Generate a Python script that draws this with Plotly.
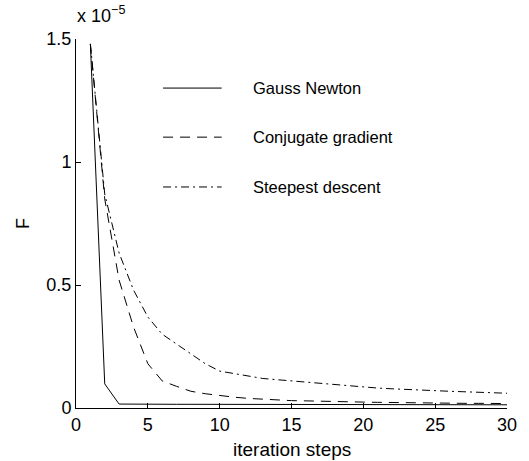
import plotly.graph_objects as go

# iteration steps
steps = list(range(1, 31))

# F values in units of 1e-5
gauss_newton = [1.48, 0.098, 0.016, 0.015, 0.015, 0.015, 0.015, 0.015, 0.015, 0.015,
                0.015, 0.015, 0.015, 0.014, 0.014, 0.014, 0.014, 0.014, 0.014, 0.014,
                0.014, 0.014, 0.014, 0.014, 0.014, 0.013, 0.013, 0.013, 0.013, 0.013]
conjugate_gradient = [1.48, 0.85, 0.52, 0.33, 0.18, 0.11, 0.088, 0.068, 0.058, 0.05,
                      0.044, 0.039, 0.035, 0.033, 0.030, 0.029, 0.027, 0.026, 0.025, 0.024,
                      0.023, 0.022, 0.022, 0.021, 0.020, 0.020, 0.019, 0.019, 0.018, 0.018]
steepest_descent = [1.48, 0.87, 0.63, 0.48, 0.37, 0.30, 0.26, 0.22, 0.18, 0.15,
                    0.14, 0.13, 0.12, 0.115, 0.11, 0.104, 0.098, 0.093, 0.089, 0.085,
                    0.081, 0.078, 0.075, 0.072, 0.070, 0.068, 0.066, 0.064, 0.062, 0.060]

series_names = ["Gauss Newton", "Conjugate gradient", "Steepest descent"]
series_values = [gauss_newton, conjugate_gradient, steepest_descent]
series_dash = ["solid", "10px,7px", "8px,4px,2px,4px"]

x_ticks = [0, 5, 10, 15, 20, 25, 30]
y_ticks = [0, 0.5, 1, 1.5]
y_tick_labels = ["0", "0.5", "1", "1.5"]

FONT = "Liberation Sans, Arial, Helvetica, sans-serif"

fig = go.Figure()
for name, vals, dash in zip(series_names, series_values, series_dash):
    fig.add_trace(go.Scatter(x=steps, y=vals, mode="lines", name=name,
                             line=dict(color="black", width=1, dash=dash),
                             showlegend=False))

# manual legend (long line samples as in the reference)
leg_y = [0.867, 0.734, 0.599]
for name, dash, ly in zip(series_names, series_dash, leg_y):
    fig.add_shape(type="line", xref="paper", yref="paper", x0=0.202, x1=0.338,
                  y0=ly, y1=ly, line=dict(color="black", width=1, dash=dash))
    fig.add_annotation(xref="paper", yref="paper", x=0.407, y=ly, text=name,
                       showarrow=False, xanchor="left", yanchor="middle",
                       font=dict(size=16.5, color="black", family=FONT))

fig.add_annotation(xref="paper", yref="paper", x=-0.002, y=1.03,
                   text="x 10<sup>−5</sup>", showarrow=False,
                   xanchor="left", yanchor="bottom",
                   font=dict(size=18, color="black", family=FONT))
fig.add_annotation(xref="paper", yref="paper", x=0.5, y=-0.112,
                   text="iteration steps", showarrow=False,
                   xanchor="center", yanchor="middle",
                   font=dict(size=19, color="black", family=FONT))
fig.add_annotation(xref="paper", yref="paper", x=-0.124, y=0.5,
                   text="F", showarrow=False, textangle=-90,
                   xanchor="center", yanchor="middle",
                   font=dict(size=18, color="black", family=FONT))

fig.update_layout(
    width=529, height=461,
    margin=dict(l=76, r=18, t=39, b=53, pad=0),
    paper_bgcolor="white", plot_bgcolor="white",
    font=dict(family=FONT, size=18, color="black"),
    xaxis=dict(range=[0, 30], tickvals=x_ticks, ticks="inside", ticklen=5,
               tickcolor="black", showline=True, linecolor="black", linewidth=1,
               showgrid=False, zeroline=False, mirror=False,
               tickfont=dict(size=18, family=FONT)),
    yaxis=dict(range=[0, 1.5], tickvals=y_ticks, ticktext=y_tick_labels,
               ticks="inside", ticklen=5, tickcolor="black", showline=True,
               linecolor="black", linewidth=1, showgrid=False, zeroline=False,
               mirror=False, tickfont=dict(size=18, family=FONT)),
)

fig.write_html("out.html")
